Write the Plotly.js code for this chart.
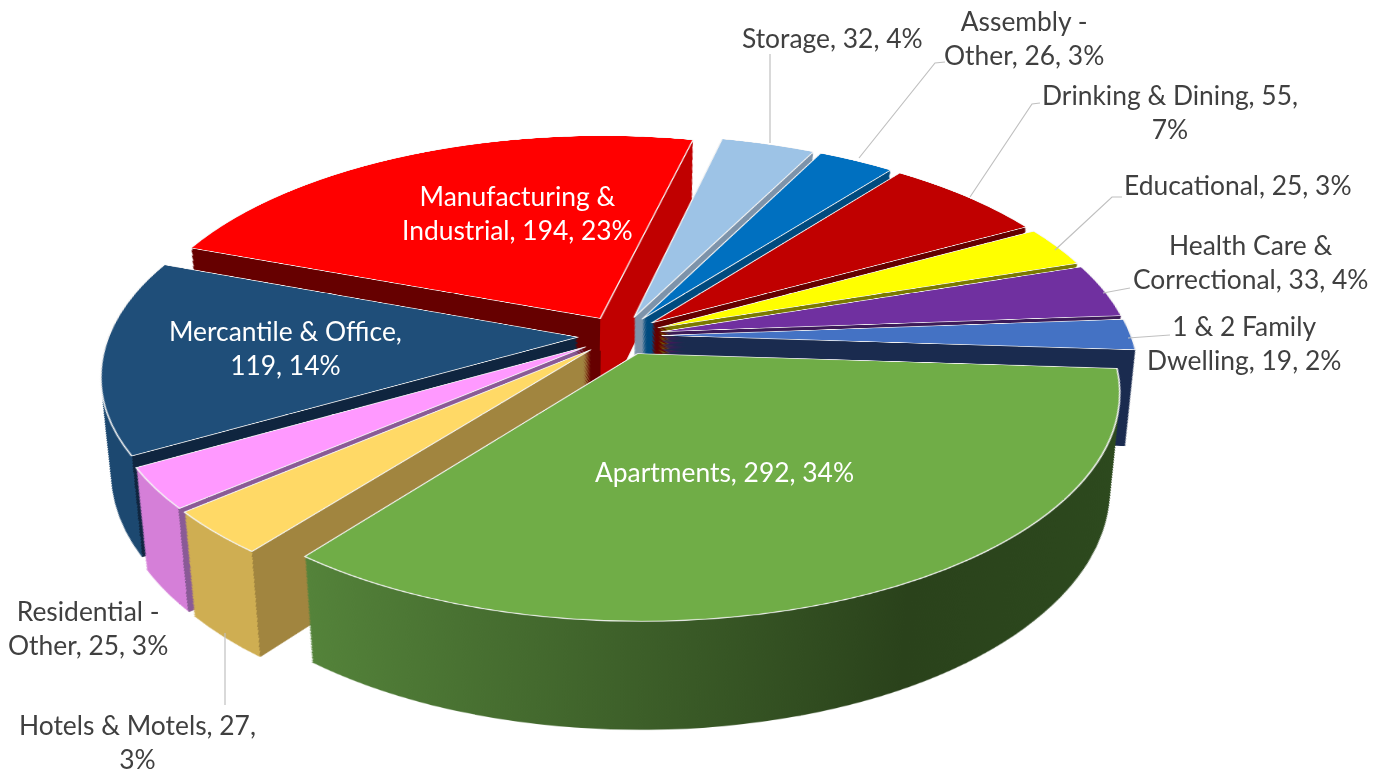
<!DOCTYPE html>
<html><head><meta charset="utf-8">
<script src="https://cdn.plot.ly/plotly-3.0.1.min.js"></script>
<style>
html,body{margin:0;padding:0;width:1386px;height:774px;overflow:hidden;background:#fff}
#pie{position:absolute;width:1500px;height:1500px;left:-130px;top:-267.5px;transform-origin:750px 602.5px;transform:perspective(2549px) rotateX(62.35deg)}
#labels{position:absolute;left:0;top:0;width:1386px;height:774px}
</style></head><body>
<div id="pie"></div><div id="labels"></div>
<script>
const categories=["Storage","Assembly - Other","Drinking & Dining","Educational","Health Care & Correctional","1 & 2 Family Dwelling","Apartments","Hotels & Motels","Residential - Other","Mercantile & Office","Manufacturing & Industrial"];
const values=[32,26,55,25,33,19,292,27,25,119,194];
const percents=[4,3,7,3,4,2,34,3,3,14,23];
const topColors=["#9dc3e6","#0070c0","#c00000","#ffff00","#7030a0","#4472c4","#70ad47","#ffd966","#ff99ff","#1f4e79","#ff0000"];
const pulls=[0.09,0.09,0.09,0.09,0.09,0.09,0.09,0.09,0.09,0.09,0.09];
const sideStops=[
 [[0,"#7d93aa"]],[[0,"#004a7e"]],[[0,"#640000"]],[[0,"#7a7a00"]],[[0,"#3c1a58"]],[[0,"#1a2b4f"]],
 [[0,"#54833a"],[0.68,"#2a421b"],[1,"#2d4a1e"]],
 [[0,"#cfae52"],[0.19,"#cfae52"],[0.19,"#a1853f"],[1,"#a1853f"]],
 [[0,"#d57fd8"],[0.12,"#d57fd8"],[0.12,"#8a5a96"],[1,"#8a5a96"]],
 [[0,"#1c4870"],[0.134,"#1c4870"],[0.134,"#0f253f"],[1,"#0f253f"]],
 [[0,"#660000"],[0.806,"#660000"],[0.806,"#c00000"],[1,"#c00000"]]];
const labelLines=[["Storage, 32, 4%"],["Assembly -","Other, 26, 3%"],["Drinking & Dining, 55,","7%"],["Educational, 25, 3%"],["Health Care &","Correctional, 33, 4%"],["1 & 2 Family","Dwelling, 19, 2%"],["Apartments, 292, 34%"],["Hotels & Motels, 27,","3%"],["Residential -","Other, 25, 3%"],["Mercantile & Office,","119, 14%"],["Manufacturing &","Industrial, 194, 23%"]];
const labelX=[832,1024,1170,1238,1250,1244,724,137,88,285,517];
const labelY=[38,38,112,185,262,343,472,742,628,348,213];
const labelColors=["#404040","#404040","#404040","#404040","#404040","#404040","#ffffff","#404040","#404040","#ffffff","#ffffff"];
const leaders=["M770,54L770,143","M945,62L935,63L859,158","M1040,103L1032,104L970,197","M1122,197L1112,197L1055,250","M1130,288L1103,293","M1170,335L1128,338","M225,633L225,705"];

const SIZE=1500, CENTER_Y=602.5, DOMAIN=1022, FOOT=2258, MIN_SCALE=0.915, LAYERS=70;
function pieTrace(f,colors,line){
 const cy=SIZE-(CENTER_Y+(1-f)*FOOT), half=f*DOMAIN/2;
 return {type:"pie",labels:categories,values:values,sort:false,direction:"clockwise",rotation:13,pull:pulls,textinfo:"none",hoverinfo:"skip",showlegend:false,
 marker:{colors:colors,line:line},
 domain:{x:[(SIZE/2-half)/SIZE,(SIZE/2+half)/SIZE],y:[(cy-half)/SIZE,(cy+half)/SIZE]}};}
const sideBase=sideStops.map(s=>s[0][1]);
const traces=[];
for(let k=LAYERS;k>=1;k--)traces.push(pieTrace(1-(1-MIN_SCALE)*k/LAYERS,sideBase,{width:0}));
traces.push(pieTrace(1,topColors,{width:1.5,color:"#f4f4f4"}));
const cfg={staticPlot:true,displayModeBar:false};
Plotly.newPlot("pie",traces,{width:SIZE,height:SIZE,margin:{l:0,r:0,t:0,b:0},paper_bgcolor:"rgba(0,0,0,0)",plot_bgcolor:"rgba(0,0,0,0)",showlegend:false},cfg).then(gd=>{
 const svg=gd.querySelector("svg.main-svg");
 const defs=svg.querySelector("defs")||svg.insertBefore(document.createElementNS("http://www.w3.org/2000/svg","defs"),svg.firstChild);
 sideStops.forEach((stops,i)=>{
  const g=document.createElementNS("http://www.w3.org/2000/svg","linearGradient");
  g.setAttribute("id","side"+i);
  stops.forEach(s=>{const st=document.createElementNS("http://www.w3.org/2000/svg","stop");st.setAttribute("offset",s[0]);st.setAttribute("stop-color",s[1]);g.appendChild(st);});
  defs.appendChild(g);
 });
 const tr=gd.querySelectorAll(".pielayer .trace");
 tr.forEach((t,ti)=>{ if(ti===tr.length-1)return;
  t.querySelectorAll(".slice path.surface").forEach((p,i)=>{p.style.fill="url(#side"+i+")";});
 });
});
const anns=categories.map((c,i)=>({x:labelX[i],y:labelY[i],xref:"x",yref:"y",text:labelLines[i].join("<br>"),showarrow:false,xanchor:"center",yanchor:"middle",align:"center",font:{family:"Lato, sans-serif",size:26.4,color:labelColors[i]}}));
const shapes=leaders.map(p=>({type:"path",path:p,xref:"x",yref:"y",line:{color:"#c0c0c0",width:1.2}}));
Plotly.newPlot("labels",[],{width:1386,height:774,margin:{l:0,r:0,t:0,b:0},paper_bgcolor:"rgba(0,0,0,0)",plot_bgcolor:"rgba(0,0,0,0)",showlegend:false,
 xaxis:{range:[0,1386],visible:false,fixedrange:true},yaxis:{range:[774,0],visible:false,fixedrange:true},annotations:anns,shapes:shapes},cfg);
</script></body></html>
